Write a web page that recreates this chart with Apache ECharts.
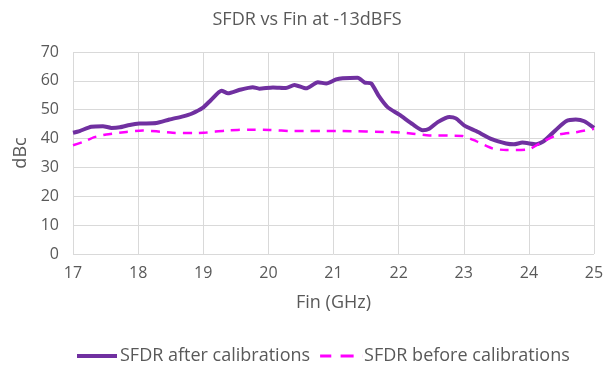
<!DOCTYPE html>
<html><head><meta charset="utf-8">
<script src="https://cdn.jsdelivr.net/npm/echarts@6/dist/echarts.min.js"></script>
<style>html,body{margin:0;padding:0;background:#fff}#c{width:614px;height:371px}</style>
</head><body><div id="c"></div>
<script>
const afterFreq = [17.0,17.1,17.28,17.46,17.59,17.72,17.87,18.02,18.28,18.48,18.69,18.82,18.99,19.12,19.28,19.38,19.56,19.76,19.86,20.07,20.27,20.40,20.58,20.76,20.89,21.04,21.14,21.37,21.48,21.58,21.70,21.83,22.01,22.22,22.37,22.47,22.60,22.78,22.88,23.01,23.19,23.44,23.65,23.77,23.90,24.11,24.23,24.41,24.57,24.72,24.85,25.0];
const afterVals = [42.0,42.6,44.1,44.3,43.7,43.9,44.7,45.2,45.4,46.6,47.7,48.6,50.6,53.4,56.6,55.7,56.9,57.8,57.3,57.7,57.5,58.6,57.4,59.5,59.1,60.5,60.9,61.1,59.4,59.1,54.6,50.9,48.3,44.9,42.9,43.4,45.7,47.5,47.0,44.5,42.6,39.7,38.3,38.0,38.6,38.0,39.1,42.9,46.0,46.6,46.0,43.7];
const beforeFreq = [17.0,17.15,17.33,17.51,17.82,18.07,18.28,18.53,18.84,19.05,19.35,19.71,20.02,20.38,21.04,21.96,22.22,22.47,22.98,23.19,23.44,23.65,24.0,24.2,24.46,24.72,25.0];
const beforeVals = [37.7,38.8,40.5,41.4,42.3,42.8,42.5,42.0,41.9,42.1,42.8,43.1,43.0,42.6,42.6,42.2,41.7,41.1,40.9,39.1,36.6,36.0,36.3,38.8,41.4,42.2,43.4];
const seriesNames = ['SFDR after calibrations','SFDR before calibrations'];

const pair = (xs, ys) => xs.map((x, i) => [x, ys[i]]);
const txt = '#595959';
const ff = 'Open Sans, sans-serif';
const chart = echarts.init(document.getElementById('c'));
chart.setOption({
  animation: false,
  title: { text: 'SFDR vs Fin at -13dBFS', left: 'center', top: 6,
    textStyle: { color: txt, fontSize: 18, fontWeight: 'normal', fontFamily: ff } },
  grid: { left: 73, right: 20, top: 52, bottom: 117 },
  legend: { top: 342, left: 72, itemWidth: 42, itemHeight: 4, itemGap: 10,
    textStyle: { color: txt, fontSize: 18, fontFamily: ff, padding: [0, 0, 0, -3] },
    data: [
      { name: seriesNames[0], icon: 'path://M0,0H40V4H0Z' },
      { name: seriesNames[1], icon: 'path://M0,0H12V3H0Z M22,0H36V3H22Z M45,0H45.1V3H45Z' }
    ] },
  xAxis: { type: 'value', min: 17, max: 25, interval: 1,
    name: 'Fin (GHz)', nameLocation: 'middle', nameGap: 40,
    nameTextStyle: { color: txt, fontSize: 18, fontFamily: ff },
    axisLine: { show: false }, axisTick: { show: false },
    axisLabel: { color: txt, fontSize: 16, fontFamily: ff, margin: 11 },
    splitLine: { show: true, lineStyle: { color: '#d9d9d9', width: 1 } } },
  yAxis: { type: 'value', min: 0, max: 70, interval: 10,
    name: 'dBc', nameLocation: 'middle', nameGap: 41, nameRotate: 90,
    nameTextStyle: { color: txt, fontSize: 18, fontFamily: ff },
    axisLine: { show: false }, axisTick: { show: false },
    axisLabel: { color: txt, fontSize: 16, fontFamily: ff, margin: 14 },
    splitLine: { show: true, lineStyle: { color: '#d9d9d9', width: 1 } } },
  series: [
    { name: seriesNames[0], type: 'line', data: pair(afterFreq, afterVals),
      showSymbol: false, symbol: 'none', smooth: 0.2,
      lineStyle: { color: '#7030A0', width: 4 }, itemStyle: { color: '#7030A0' } },
    { name: seriesNames[1], type: 'line', data: pair(beforeFreq, beforeVals),
      showSymbol: false, symbol: 'none', smooth: 0.2,
      lineStyle: { color: '#FF00FF', width: 2.5, type: [9, 7] }, itemStyle: { color: '#FF00FF' } }
  ]
});
</script></body></html>
